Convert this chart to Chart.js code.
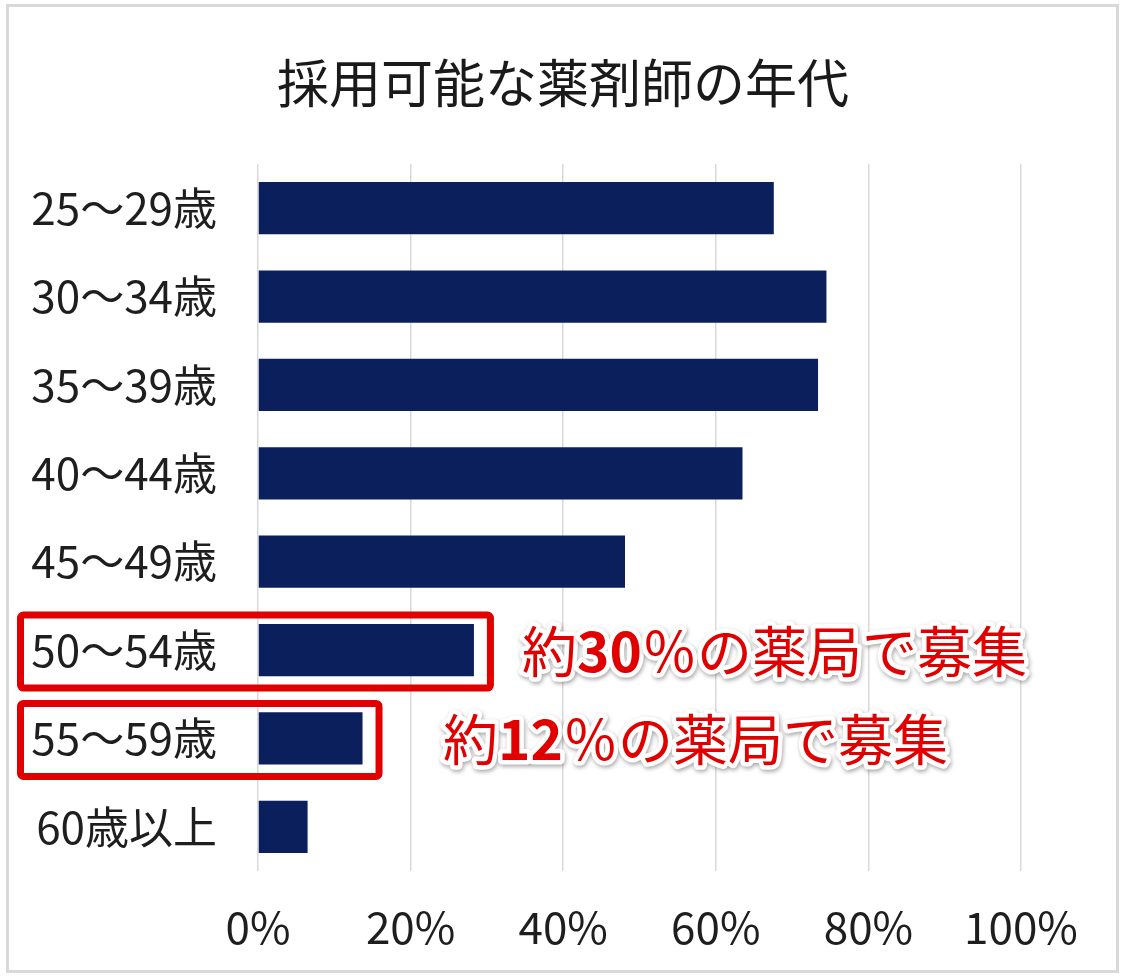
<!DOCTYPE html>
<html>
<head>
<meta charset="utf-8">
<script src="https://cdn.jsdelivr.net/npm/chart.js@4"></script>
<style>
  html, body { margin: 0; padding: 0; background: #fff; }
  #wrap { position: relative; width: 1126px; height: 980px; }
</style>
</head>
<body>
<div id="wrap"><canvas id="chart" width="1126" height="980"></canvas></div>
<script>
const title = '採用可能な薬剤師の年代';
const categories = ['25～29歳', '30～34歳', '35～39歳', '40～44歳', '45～49歳', '50～54歳', '55～59歳', '60歳以上'];
const values = [67.6, 74.5, 73.4, 63.5, 48.1, 28.3, 13.7, 6.5];
const tickValues = [0, 20, 40, 60, 80, 100];
const noteCategories = ['50～54歳', '55～59歳'];
const notes = ['約30％の薬局で募集', '約12％の薬局で募集'];

// where the callout texts start (px)
const noteLeft = [522, 443];

const FONT = '"Noto Sans CJK JP", "Noto Sans", sans-serif';
const RED = '#e00000';

const decor = {
  id: 'decor',
  beforeDraw(chart) {
    const c = chart.ctx;
    c.save();
    c.fillStyle = '#fff';
    c.fillRect(0, 0, chart.width, chart.height);
    c.strokeStyle = '#d9d9d9';
    c.lineWidth = 3;
    c.strokeRect(7.5, 5.5, 1110, 966);
    c.restore();
  },
  afterDraw(chart) {
    const c = chart.ctx;
    const x = chart.scales.x, y = chart.scales.y;
    c.save();
    // title
    c.fillStyle = '#1a1a1a';
    c.font = '52px ' + FONT;
    c.textAlign = 'center';
    c.textBaseline = 'middle';
    c.fillText(title, chart.width / 2, 83);

    noteCategories.forEach((cat, i) => {
      const idx = categories.indexOf(cat);
      const cy = y.getPixelForValue(idx);
      const right = x.getPixelForValue(values[idx]) + 20;
      // red frame round label + bar
      c.strokeStyle = RED;
      c.lineWidth = 7;
      c.lineJoin = 'round';
      c.beginPath();
      c.roundRect(20.5, cy - 35, right - 24, 73, 3);
      c.stroke();

      // callout text, digits in bold
      const parts = notes[i].split(/(\d+)/).filter(s => s);
      let tx = noteLeft[i];
      const ty = cy + 1;
      c.textAlign = 'left';
      c.textBaseline = 'middle';
      c.lineJoin = 'round';
      parts.forEach(p => {
        c.font = (/\d/.test(p) ? 'bold ' : '400 ') + '55px ' + FONT;
        c.save();
        c.shadowColor = 'rgba(0,0,0,0.35)';
        c.shadowBlur = 4;
        c.shadowOffsetX = 1;
        c.shadowOffsetY = 2;
        c.strokeStyle = '#fff';
        c.lineWidth = 9;
        c.strokeText(p, tx, ty);
        c.restore();
        tx += c.measureText(p).width;
      });
      tx = noteLeft[i];
      parts.forEach(p => {
        c.font = (/\d/.test(p) ? 'bold ' : '400 ') + '55px ' + FONT;
        c.fillStyle = RED;
        c.fillText(p, tx, ty);
        tx += c.measureText(p).width;
      });
    });
    c.restore();
  }
};

const tickFont = { family: FONT, size: 44 };

new Chart(document.getElementById('chart'), {
  type: 'bar',
  data: {
    labels: categories,
    datasets: [{
      data: values,
      backgroundColor: '#0b1f5c',
      barPercentage: 0.59,
      categoryPercentage: 1
    }]
  },
  options: {
    indexAxis: 'y',
    responsive: false,
    animation: false,
    layout: { padding: { top: 164, right: 105, bottom: 0, left: 0 } },
    plugins: {
      legend: { display: false },
      tooltip: { enabled: false },
      title: { display: false }
    },
    scales: {
      x: {
        min: 0,
        max: 100,
        afterBuildTicks: s => { s.ticks = tickValues.map(v => ({ value: v })); },
        ticks: { callback: v => v + '%', padding: 30, font: tickFont, color: '#1e1e1e', maxRotation: 0 },
        grid: { color: '#d9d9d9', lineWidth: 1.5, drawTicks: false },
        border: { display: false },
        afterFit: s => { s.height = 109; }
      },
      y: {
        ticks: { padding: 33, font: tickFont, color: '#1e1e1e' },
        grid: { display: false },
        border: { display: false },
        afterFit: s => { s.width = 258; }
      }
    }
  },
  plugins: [decor]
});
</script>
</body>
</html>
